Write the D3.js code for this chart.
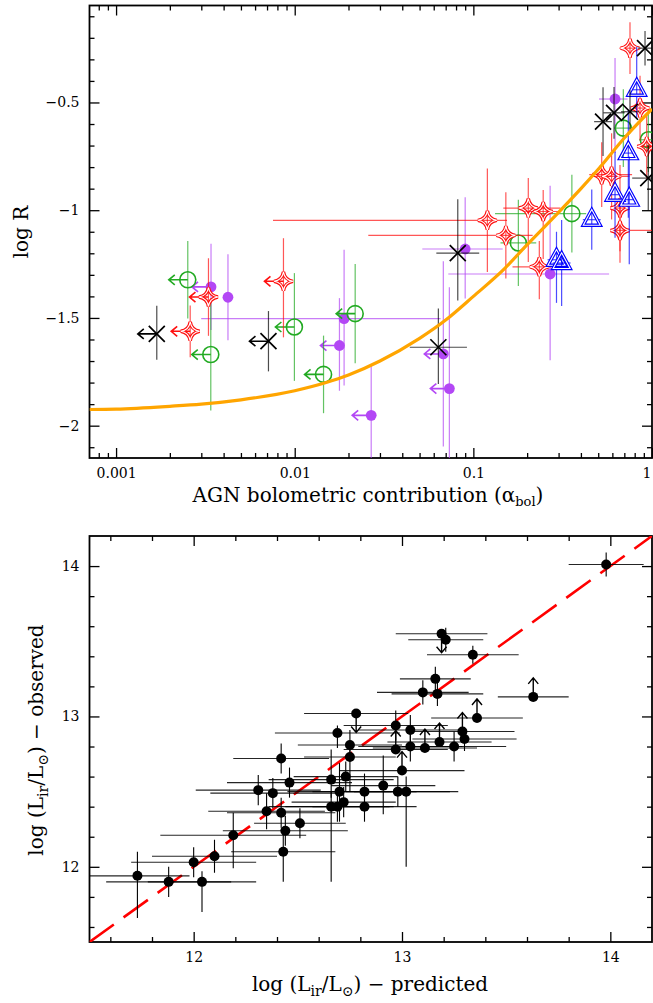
<!DOCTYPE html>
<html>
<head>
<meta charset="utf-8">
<script src="https://cdn.jsdelivr.net/npm/d3@7"></script>
<style>
  body { margin: 0; background: #fff; }
  text { font-family: "DejaVu Serif", serif; }
</style>
</head>
<body>
<div id="container"></div>
<script>
/* CONSTANTS AND GLOBALS */
const width = 653, height = 1003;

// top panel rows: [alpha, logR, dex left, dex right, dy down, dy up, upper limit on alpha]
const crosses = [
  [0.00169, -1.574, 0, 0, 0.12, 0.13, 1],
  [0.00713, -1.608, 0, 0, 0.14, 0.14, 1],
  [0.0637, -1.636, 0.16, 0.16, 0.17, 0.18, 0],
  [0.0818, -1.199, 0.12, 0.12, 0.22, 0.25, 0],
  [0.532, -0.589, 0.05, 0.05, 0.16, 0.16, 0],
  [0.613, -0.548, 0.06, 0.06, 0.12, 0.12, 0],
  [0.753, -0.543, 0.05, 0.05, 0.10, 0.10, 0],
  [0.914, -0.248, 0.04, 0.10, 0.08, 0.08, 0],
  [0.953, -0.851, 0.09, 0.05, 0.15, 0.15, 0]
];
const dots = [
  [0.0034, -1.356, 0, 0, 0.20, 0.20, 1],
  [0.00423, -1.404, 0, 0, 0.20, 0.20, 0],
  [0.0189, -1.503, 0.80, 0.54, 0.31, 0.32, 0],
  [0.0178, -1.628, 0, 0, 0.21, 0.22, 1],
  [0.0268, -1.952, 0, 0, 0.25, 0.23, 1],
  [0.0679, -1.667, 0, 0, 0.43, 0.43, 1],
  [0.0734, -1.828, 0, 0, 0.35, 0.47, 1],
  [0.090, -1.180, 0.24, 0.21, 0.23, 0.24, 0],
  [0.269, -1.296, 0.57, 0.33, 0.40, 0.41, 0],
  [0.621, -0.484, 0.09, 0.07, 0.25, 0.19, 0]
];
const rings = [
  [0.00252, -1.323, 0, 0, 0.18, 0.18, 1],
  [0.00339, -1.670, 0, 0, 0.26, 0.26, 1],
  [0.00996, -1.542, 0, 0, 0.25, 0.25, 1],
  [0.0145, -1.762, 0, 0, 0.18, 0.18, 1],
  [0.0218, -1.480, 0, 0, 0.23, 0.23, 1],
  [0.1786, -1.152, 0.10, 0.10, 0.20, 0.20, 0],
  [0.356, -1.016, 0.43, 0.08, 0.18, 0.18, 0],
  [0.691, -0.619, 0.05, 0.05, 0.18, 0.18, 0],
  [0.954, -0.673, 0.05, 0.05, 0.15, 0.15, 0]
];
const stars = [
  [0.00329, -1.403, 0, 0, 0.18, 0.18, 1],
  [0.0026, -1.562, 0, 0, 0.12, 0.12, 1],
  [0.00865, -1.330, 0, 0, 0.26, 0.20, 1],
  [0.1198, -1.047, 1.20, 0.11, 0.24, 0.24, 0],
  [0.152, -1.117, 0.77, 0.15, 0.20, 0.20, 0],
  [0.203, -0.990, 0.14, 0.18, 0.25, 0.14, 0],
  [0.246, -1.006, 0.10, 0.10, 0.22, 0.10, 0],
  [0.234, -1.263, 0.15, 0.13, 0.15, 0.12, 0],
  [0.753, -0.248, 0.06, 0.06, 0.12, 0.12, 0],
  [0.857, -0.526, 0.05, 0.05, 0.15, 0.15, 0],
  [0.934, -0.704, 0.05, 0.05, 0.15, 0.15, 0],
  [0.523, -0.835, 0.07, 0.17, 0.15, 0.15, 0],
  [0.594, -0.843, 0.10, 0.10, 0.20, 0.20, 0],
  [0.662, -0.990, 0.05, 0.05, 0.20, 0.20, 0],
  [0.662, -1.094, 0.03, 0.18, 0.15, 0.15, 0]
];
const tris = [
  [0.821, -0.441, 0.03, 0.03, 0.13, 0.20, 0],
  [0.737, -0.735, 0.03, 0.03, 0.30, 0.20, 0],
  [0.621, -0.928, 0.03, 0.03, 0.20, 0.20, 0],
  [0.746, -0.951, 0.03, 0.03, 0.30, 0.20, 0],
  [0.46, -1.044, 0.05, 0.05, 0.14, 0.14, 0],
  [0.292, -1.230, 0.05, 0.05, 0.20, 0.13, 0],
  [0.312, -1.245, 0.05, 0.05, 0.20, 0.20, 0]
];

// orange model curve
const curveA = [0.00071, 0.001, 0.002, 0.003, 0.005, 0.01, 0.015, 0.02, 0.03, 0.05, 0.07, 0.1, 0.15, 0.2, 0.3, 0.4, 0.5, 0.7, 1.0];
const curveR = [-1.925, -1.923, -1.910, -1.900, -1.880, -1.838, -1.800, -1.765, -1.700, -1.595, -1.510, -1.400, -1.270, -1.160, -1.010, -0.900, -0.810, -0.665, -0.530];

const topXTicks = [0.001, 0.01, 0.1, 1];
const topXLabels = ["0.001", "0.01", "0.1", "1"];
const topYTicks = [-2, -1.5, -1, -0.5];
const topYLabels = ["\u22122", "\u22121.5", "\u22121", "\u22120.5"];

// bottom panel rows: [predicted, observed, x err, y err down, y err up, limit (1 lower, -1 upper)]
const lirPts = [
  [11.73, 11.94, 0.25, 0.28, 0.16, 0],
  [11.88, 11.90, 0.30, 0.10, 0.10, 0],
  [12.04, 11.90, 0.26, 0.20, 0.07, 0],
  [12.00, 12.03, 0.30, 0.10, 0.10, 0],
  [12.10, 12.07, 0.30, 0.11, 0.11, 0],
  [12.19, 12.21, 0.35, 0.22, 0.15, 0],
  [12.31, 12.51, 0.30, 0.10, 0.10, 0],
  [12.38, 12.49, 0.30, 0.10, 0.10, 0],
  [12.35, 12.37, 0.28, 0.12, 0.12, 0],
  [12.42, 12.36, 0.26, 0.10, 0.10, 0],
  [12.44, 12.24, 0.30, 0.10, 0.10, 0],
  [12.43, 12.10, 0.25, 0.20, 0.15, 0],
  [12.51, 12.29, 0.22, 0.10, 0.10, 0],
  [12.46, 12.56, 0.30, 0.10, 0.10, 0],
  [12.42, 12.72, 0.23, 0.10, 0.10, 0],
  [12.66, 12.58, 0.30, 0.12, 0.20, 0],
  [12.73, 12.60, 0.25, 0.10, 0.10, 0],
  [12.69, 12.89, 0.30, 0.10, 0.05, 0],
  [12.75, 12.81, 0.25, 0.10, 0.10, 0],
  [12.75, 12.73, 0.22, 0.23, 0.10, 0],
  [12.78, 13.02, 0.25, 0, 0, -1],
  [12.70, 12.50, 0.25, 0.20, 0.19, 0],
  [12.72, 12.43, 0.25, 0.10, 0.10, 0],
  [12.66, 12.40, 0.30, 0.50, 0.10, 0],
  [12.69, 12.40, 0.25, 0.10, 0.10, 0],
  [12.82, 12.50, 0.25, 0.10, 0.12, 0],
  [12.82, 12.40, 0.25, 0.10, 0.10, 0],
  [12.91, 12.54, 0.25, 0.19, 0.20, 0],
  [12.98, 12.50, 0.25, 0.10, 0.10, 0],
  [13.02, 12.50, 0.25, 0.50, 0.10, 0],
  [13.00, 12.64, 0.30, 0, 0, 1],
  [12.97, 12.78, 0.25, 0, 0, 1],
  [12.97, 12.94, 0.25, 0.10, 0.10, 0],
  [13.04, 12.91, 0.25, 0.10, 0.10, 0],
  [13.04, 12.80, 0.25, 0.10, 0.10, 0],
  [13.11, 12.79, 0.25, 0, 0, 1],
  [13.18, 12.83, 0.25, 0, 0, 1],
  [13.25, 12.80, 0.25, 0.10, 0.10, 0],
  [13.29, 12.90, 0.25, 0, 0, 1],
  [13.30, 12.85, 0.25, 0.08, 0.08, 0],
  [13.36, 12.99, 0.22, 0, 0, 1],
  [13.10, 13.16, 0.22, 0.08, 0.08, 0],
  [13.17, 13.15, 0.22, 0.08, 0.08, 0],
  [13.16, 13.25, 0.17, 0.08, 0.08, 0],
  [13.34, 13.41, 0.22, 0.06, 0.06, 0],
  [13.19, 13.55, 0.22, 0, 0, -1],
  [13.21, 13.51, 0.18, 0.08, 0.08, 0],
  [13.63, 13.13, 0.17, 0, 0, 1],
  [13.98, 14.01, 0.18, 0.08, 0.08, 0]
];
const oneToOne = [11.5, 14.2];

const botTicks = [12, 13, 14];
const botLabels = ["12", "13", "14"];

const topBox = {left: 89.5, right: 652, top: 5.5, bottom: 458};
const botBox = {left: 89.5, right: 652, top: 536, bottom: 942};

//SVG
const svg = d3.select("#container")
  .append("svg")
  .attr("width", width)
  .attr("height", height);

// Scales
const xTop = d3.scaleLog().domain([0.00071, 1]).range([topBox.left, topBox.right]);
const yTop = d3.scaleLinear().domain([-2.15, -0.05]).range([topBox.bottom, topBox.top]);
const xBot = d3.scaleLinear().domain([11.5, 14.2]).range([botBox.left, botBox.right]);
const yBot = d3.scaleLinear().domain([11.5, 14.2]).range([botBox.bottom, botBox.top]);

// clip paths
const defs = svg.append("defs");
[["clipTop", topBox], ["clipBot", botBox]].forEach(([id, b]) => {
  defs.append("clipPath").attr("id", id)
    .append("rect")
    .attr("x", b.left).attr("y", b.top)
    .attr("width", b.right - b.left).attr("height", b.bottom - b.top);
});

//Axis
function drawAxes(box, x, y, xMaj, xMin, xLab, yMaj, yMin, yLab) {
  const g = svg.append("g");
  const mk = (axis, tr, vals, size, labels) => {
    const a = g.append("g")
      .attr("transform", tr)
      .call(axis.tickValues(vals).tickSize(size).tickPadding(10)
        .tickFormat((d, i) => labels ? labels[i] : ""));
    a.select(".domain").remove();
    a.selectAll("line").attr("stroke", "#000").attr("stroke-width", 1.3);
    a.selectAll("text")
      .attr("font-family", '"DejaVu Serif", serif')
      .attr("font-size", 14)
      .attr("fill", "#000");
    return a;
  };
  const xa = mk(d3.axisBottom(x), `translate(0,${box.bottom})`, xMaj, -10, xLab);
  mk(d3.axisBottom(x), `translate(0,${box.bottom})`, xMin, -5);
  mk(d3.axisTop(x), `translate(0,${box.top})`, xMaj, -10);
  mk(d3.axisTop(x), `translate(0,${box.top})`, xMin, -5);
  mk(d3.axisLeft(y), `translate(${box.left},0)`, yMaj, -10, yLab);
  mk(d3.axisLeft(y), `translate(${box.left},0)`, yMin, -5);
  mk(d3.axisRight(y), `translate(${box.right},0)`, yMaj, -10);
  mk(d3.axisRight(y), `translate(${box.right},0)`, yMin, -5);
  g.append("rect")
    .attr("x", box.left).attr("y", box.top)
    .attr("width", box.right - box.left).attr("height", box.bottom - box.top)
    .attr("fill", "none").attr("stroke", "#000").attr("stroke-width", 1.8);
  return xa;
}

const logMinor = [];
[0.0001, 0.001, 0.01, 0.1].forEach(dec => d3.range(2, 10).forEach(m => {
  const v = dec * m;
  if (v > 0.00071 && v < 1) logMinor.push(v);
}));
const topYMinor = d3.range(-2.1, -0.05, 0.1).map(v => +v.toFixed(2)).filter(v => !topYTicks.includes(v));
const botMinor = d3.range(11.6, 14.2, 0.2).map(v => +v.toFixed(1)).filter(v => !botTicks.includes(v));

const topXAxis = drawAxes(topBox, xTop, yTop, topXTicks, logMinor, topXLabels, topYTicks, topYMinor, topYLabels);
// keep the "1" at the right edge inside the page
topXAxis.selectAll("text").filter(d => d === 1).attr("text-anchor", "end").attr("dx", -1);
drawAxes(botBox, xBot, yBot, botTicks, botMinor, botLabels, botTicks, botMinor, botLabels);

// symbol paths
function starPath(s) {
  const c = 0.13 * s;
  return `M0,${-s} Q${c},${-c} ${s},0 Q${c},${c} 0,${s} Q${-c},${c} ${-s},0 Q${-c},${-c} 0,${-s} Z`;
}
function triPath(s) {
  return `M0,${-1.2 * s} L${s},${0.65 * s} L${-s},${0.65 * s} Z`;
}

// top panel points
const gTop = svg.append("g").attr("clip-path", "url(#clipTop)");

function drawGroup(rows, color, kind) {
  const g = gTop.append("g");
  rows.forEach(d => {
    const cx = xTop(d[0]), cy = yTop(d[1]);
    const bar = (x1, y1, x2, y2) => g.append("line")
      .attr("x1", x1).attr("y1", y1).attr("x2", x2).attr("y2", y2)
      .attr("stroke", color).attr("stroke-width", 1.2).attr("opacity", 0.7);
    if (d[2] || d[3]) bar(xTop(d[0] / Math.pow(10, d[2])), cy, xTop(d[0] * Math.pow(10, d[3])), cy);
    bar(cx, yTop(d[1] - d[4]), cx, yTop(d[1] + d[5]));
    if (d[6]) {
      g.append("path")
        .attr("d", `M${cx},${cy} H${cx - 19} M${cx - 13},${cy - 5} L${cx - 19},${cy} L${cx - 13},${cy + 5}`)
        .attr("fill", "none").attr("stroke", color).attr("stroke-width", 1.6);
    }
    const s = g.append("g").attr("transform", `translate(${cx},${cy})`);
    if (kind === "cross") {
      s.append("path").attr("d", "M-8,-8 L8,8 M-8,8 L8,-8")
        .attr("stroke", color).attr("stroke-width", 1.7).attr("fill", "none");
    } else if (kind === "dot") {
      s.append("circle").attr("r", 5.4).attr("fill", color);
    } else if (kind === "ring") {
      s.append("circle").attr("r", 8).attr("fill", "none")
        .attr("stroke", color).attr("stroke-width", 1.6);
    } else if (kind === "star" || kind === "tri") {
      // double outline: thick coloured stroke with a thin white core
      const p = kind === "star" ? starPath(9.5) : triPath(8.5);
      s.append("path").attr("d", p).attr("fill", "none")
        .attr("stroke", color).attr("stroke-width", 3.4).attr("stroke-linejoin", "miter");
      s.append("path").attr("d", p).attr("fill", "none")
        .attr("stroke", "#fff").attr("stroke-width", 1.1);
    }
  });
}

drawGroup(dots, "#b347f5", "dot");
drawGroup(rings, "#22aa22", "ring");
drawGroup(stars, "#ff1010", "star");
drawGroup(tris, "#0000ff", "tri");
drawGroup(crosses, "#000000", "cross");

// model curve
const lineGen = d3.line()
  .x((d, i) => xTop(curveA[i]))
  .y(d => yTop(d))
  .curve(d3.curveMonotoneX);
gTop.append("path")
  .datum(curveR)
  .attr("fill", "none")
  .attr("stroke", "#ffa500")
  .attr("stroke-width", 3.2)
  .attr("d", lineGen);

// bottom panel
const gBot = svg.append("g").attr("clip-path", "url(#clipBot)");

gBot.append("line")
  .attr("x1", xBot(oneToOne[0])).attr("y1", yBot(oneToOne[0]))
  .attr("x2", xBot(oneToOne[1])).attr("y2", yBot(oneToOne[1]))
  .attr("stroke", "#ff0000").attr("stroke-width", 2.6)
  .attr("stroke-dasharray", "30,12");

lirPts.forEach(d => {
  const cx = xBot(d[0]), cy = yBot(d[1]);
  gBot.append("line")
    .attr("x1", xBot(d[0] - d[2])).attr("x2", xBot(d[0] + d[2]))
    .attr("y1", cy).attr("y2", cy)
    .attr("stroke", "#000").attr("stroke-width", 1.1).attr("opacity", 0.85);
  if (d[3] || d[4]) {
    gBot.append("line")
      .attr("x1", cx).attr("x2", cx)
      .attr("y1", yBot(d[1] - d[3])).attr("y2", yBot(d[1] + d[4]))
      .attr("stroke", "#000").attr("stroke-width", 1.1);
  }
  if (d[5]) {
    const t = cy - 19 * d[5], h = cy - 13 * d[5];
    gBot.append("path")
      .attr("d", `M${cx},${cy} V${t} M${cx - 5},${h} L${cx},${t} L${cx + 5},${h}`)
      .attr("fill", "none").attr("stroke", "#000").attr("stroke-width", 1.4);
  }
});
gBot.selectAll("circle.pt")
  .data(lirPts)
  .join("circle")
  .attr("class", "pt")
  .attr("cx", d => xBot(d[0]))
  .attr("cy", d => yBot(d[1]))
  .attr("r", 5)
  .attr("fill", "#000");

// Labels
svg.append("text")
  .attr("transform", "translate(28,232) rotate(-90)")
  .attr("text-anchor", "middle")
  .attr("font-size", 20)
  .text("log R");

const tx = svg.append("text")
  .attr("x", 368).attr("y", 502)
  .attr("text-anchor", "middle")
  .attr("font-size", 20);
tx.append("tspan").text("AGN bolometric contribution (\u03b1");
tx.append("tspan").attr("font-size", 13).attr("dy", 4).text("bol");
tx.append("tspan").attr("dy", -4).text(")");

function lirLabel(sel, tail) {
  sel.append("tspan").text("log  (L");
  sel.append("tspan").attr("font-size", 14).attr("dy", 5).text("ir");
  sel.append("tspan").attr("dy", -5).text("/L");
  sel.append("tspan").attr("font-size", 14).attr("dy", 5).text("\u2299");
  sel.append("tspan").attr("dy", -5).text(")  \u2212  " + tail);
}
lirLabel(svg.append("text")
  .attr("transform", "translate(43,740) rotate(-90)")
  .attr("text-anchor", "middle")
  .attr("font-size", 20), "observed");
lirLabel(svg.append("text")
  .attr("x", 370).attr("y", 991)
  .attr("text-anchor", "middle")
  .attr("font-size", 20), "predicted");
</script>
</body>
</html>
